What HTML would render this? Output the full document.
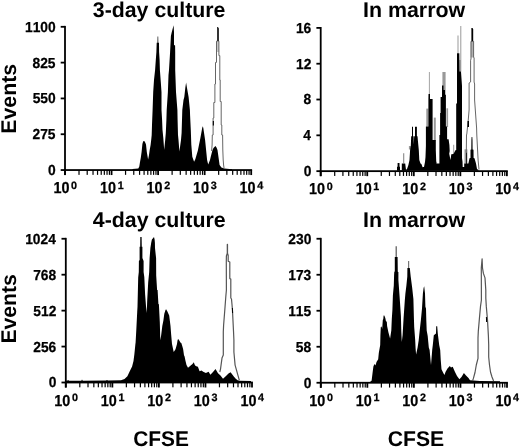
<!DOCTYPE html>
<html><head><meta charset="utf-8"><title>CFSE histograms</title><style>
html,body{margin:0;padding:0;background:#fff;}
svg{display:block;filter:grayscale(1);}
text{font-family:"Liberation Sans", sans-serif;font-weight:bold;fill:#000;font-kerning:none;text-rendering:geometricPrecision;}
.sm text{stroke:#000;stroke-width:0.25px;}
</style></head><body>
<svg width="520" height="448" viewBox="0 0 520 448">
<rect width="520" height="448" fill="#fff"/>
<path d="M216.4,41.2 L218.8,41.2 L219.2,52 L216.2,52 Z" fill="#c8c8c8"/>
<path d="M132.5,170.5 L132.5,169 L138.3,168.6 L139.3,166.5 L140,162 L140.8,157.7 L141.6,152 L142.4,144 L143.2,141.3 L144.3,141 L145.2,142.5 L146,144.5 L146.8,152 L147.5,156 L148.1,159.6 L149,155 L149.7,150 L150.6,145 L151.3,139 L151.7,135 L152,125 L152.6,110 L153.2,92.3 L154,80 L155.1,70 L155.8,60 L156.4,52 L156.7,42.8 L157.5,42.8 L157.6,36.4 L158.2,36.4 L158.3,42.8 L159,42.8 L159.1,52 L159.6,60 L159.9,70 L160.8,82 L161.5,92.3 L161.5,110 L162.1,120 L162.5,130 L163.3,138 L164.2,149.7 L165.2,140 L165.8,133 L166.4,120 L166.7,110 L167.9,92 L168.5,75 L169,70 L170.1,52 L170.9,36 L171.8,32 L173.6,25.3 L174,32 L174,45 L175.1,45.4 L175.2,52 L175.2,70 L176,92 L177.4,110 L177.6,120 L178,135 L178.5,140 L179.4,151.5 L180.3,145 L181,140 L181.6,133 L182,120 L182.3,110 L183.5,100 L184.3,97.1 L185.3,88 L186.1,82.4 L187,88 L188.6,97.1 L189.9,110 L190.1,115.5 L190.8,130 L191.3,144.6 L192.3,156.8 L194.1,161.7 L195.3,159.3 L197.8,150.7 L200.3,138.4 L202.2,128 L202.8,126.3 L203.3,128 L205.1,140 L206.1,150 L207.1,160 L208.2,164.6 L210,160 L210.7,157 L212.5,150 L213.5,148 L215.4,146.1 L216.5,147.5 L217.5,150 L218.2,155 L218.9,160 L219.6,165 L221.4,167.5 L224.3,168.5 L232,169.2 L232,170.5 Z" fill="#000"/>
<path d="M211.6,151 L212.1,145 L212.3,135 L213.1,135 L213.1,118 L213.8,118 L213.8,102.5 L214.9,102.5 L214.9,84 L215.5,84 L215.5,62.4 L216.5,62.4 L216.5,41.2 L217.3,41.2" fill="none" stroke="#666" stroke-width="1.0" stroke-linejoin="round"/>
<path d="M218.5,41.2 L218.9,41.2 L218.9,55.6 L219.8,55.6 L219.8,80 L220.2,80 L220.2,101.5 L221.2,101.5 L221.2,125 L221.8,125 L221.8,135 L222.6,135 L222.8,150 L223.2,160 L223.6,165 L224.1,168.5" fill="none" stroke="#666" stroke-width="1.0" stroke-linejoin="round"/>
<path d="M212.8,121 L213.9,121 L213.9,125.5 L212.8,125.5 Z" fill="#000"/>
<path d="M217.2,27 L218,27 L218.8,28.5 L218.8,41.3 L217.2,41.3 Z" fill="#000"/>
<rect x="64.1" y="25.9" width="1.8" height="149.15" fill="#000"/>
<rect x="64.1" y="169.15" width="188" height="1.8" fill="#000"/>
<rect x="60.7" y="169.15" width="4.3" height="1.8" fill="#000"/>
<rect x="60.7" y="133.34" width="4.3" height="1.8" fill="#000"/>
<rect x="60.7" y="97.53" width="4.3" height="1.8" fill="#000"/>
<rect x="60.7" y="61.71" width="4.3" height="1.8" fill="#000"/>
<rect x="60.7" y="25.9" width="4.3" height="1.8" fill="#000"/>
<rect x="64.1" y="170.05" width="1.8" height="5.0" fill="#000"/>
<rect x="78.41" y="170.05" width="1.2" height="4.8" fill="#000"/>
<rect x="86.61" y="170.05" width="1.2" height="4.8" fill="#000"/>
<rect x="92.43" y="170.05" width="1.2" height="4.8" fill="#000"/>
<rect x="96.94" y="170.05" width="1.2" height="4.8" fill="#000"/>
<rect x="100.62" y="170.05" width="1.2" height="4.8" fill="#000"/>
<rect x="103.74" y="170.05" width="1.2" height="4.8" fill="#000"/>
<rect x="106.44" y="170.05" width="1.2" height="4.8" fill="#000"/>
<rect x="108.82" y="170.05" width="1.2" height="4.8" fill="#000"/>
<rect x="110.65" y="170.05" width="1.8" height="5.0" fill="#000"/>
<rect x="124.96" y="170.05" width="1.2" height="4.8" fill="#000"/>
<rect x="133.16" y="170.05" width="1.2" height="4.8" fill="#000"/>
<rect x="138.98" y="170.05" width="1.2" height="4.8" fill="#000"/>
<rect x="143.49" y="170.05" width="1.2" height="4.8" fill="#000"/>
<rect x="147.17" y="170.05" width="1.2" height="4.8" fill="#000"/>
<rect x="150.29" y="170.05" width="1.2" height="4.8" fill="#000"/>
<rect x="152.99" y="170.05" width="1.2" height="4.8" fill="#000"/>
<rect x="155.37" y="170.05" width="1.2" height="4.8" fill="#000"/>
<rect x="157.2" y="170.05" width="1.8" height="5.0" fill="#000"/>
<rect x="171.51" y="170.05" width="1.2" height="4.8" fill="#000"/>
<rect x="179.71" y="170.05" width="1.2" height="4.8" fill="#000"/>
<rect x="185.53" y="170.05" width="1.2" height="4.8" fill="#000"/>
<rect x="190.04" y="170.05" width="1.2" height="4.8" fill="#000"/>
<rect x="193.72" y="170.05" width="1.2" height="4.8" fill="#000"/>
<rect x="196.84" y="170.05" width="1.2" height="4.8" fill="#000"/>
<rect x="199.54" y="170.05" width="1.2" height="4.8" fill="#000"/>
<rect x="201.92" y="170.05" width="1.2" height="4.8" fill="#000"/>
<rect x="203.75" y="170.05" width="1.8" height="5.0" fill="#000"/>
<rect x="218.06" y="170.05" width="1.2" height="4.8" fill="#000"/>
<rect x="226.26" y="170.05" width="1.2" height="4.8" fill="#000"/>
<rect x="232.08" y="170.05" width="1.2" height="4.8" fill="#000"/>
<rect x="236.59" y="170.05" width="1.2" height="4.8" fill="#000"/>
<rect x="240.27" y="170.05" width="1.2" height="4.8" fill="#000"/>
<rect x="243.39" y="170.05" width="1.2" height="4.8" fill="#000"/>
<rect x="246.09" y="170.05" width="1.2" height="4.8" fill="#000"/>
<rect x="248.47" y="170.05" width="1.2" height="4.8" fill="#000"/>
<rect x="250.3" y="170.05" width="1.8" height="5.0" fill="#000"/>
<path d="M403,153.2 L404.3,153.2 L404.3,163.2 L403,163.2 Z" fill="#999"/>
<path d="M408.9,146 L411.8,146 L411.8,149.5 L408.9,149.5 Z" fill="#999"/>
<path d="M428.9,72 L429.8,72 L429.8,94.2 L428.9,94.2 Z" fill="#999"/>
<path d="M426.3,108.6 L428.4,108.6 L428.4,126.6 L426.3,126.6 Z" fill="#999"/>
<path d="M433.8,117.6 L435.8,117.6 L435.8,140.5 L433.8,140.5 Z" fill="#999"/>
<path d="M442.4,72 L445.6,72 L445.6,95 L442.4,95 Z" fill="#999"/>
<path d="M446.4,108.3 L448.1,108.3 L448.1,127 L446.4,127 Z" fill="#999"/>
<path d="M436.2,161.8 L437,161.8 L437,163.8 L436.2,163.8 Z" fill="#999"/>
<path d="M453.2,144.8 L454.2,144.8 L454.2,154 L453.2,154 Z" fill="#999"/>
<path d="M457.5,35.6 L458.5,35.6 L458.5,53.3 L457.5,53.3 Z" fill="#999"/>
<path d="M460.3,26 L461.3,26 L461.3,71.7 L459.5,71.7 L459.5,60 L460.3,60 Z" fill="#999"/>
<path d="M464.5,149.3 L467.4,149.3 L467.4,163.6 L464.5,163.6 Z" fill="#999"/>
<path d="M470.7,41.4 L474,41.4 L474,57.5 L470.7,57.5 Z" fill="#b0b0b0"/>
<path d="M397,170.8 L397,166.8 L397.6,166.8 L397.6,163 L399.5,163 L399.5,166.8 L400,166.8 L400,170.2 L401.8,170.2 L401.8,163.4 L405.2,163.4 L405.5,166 L406,169.8 L407,169 L408.4,165 L409.5,160 L410.1,150 L410.8,146 L411.2,136.2 L412,136.2 L412,126.8 L413,126.8 L413,136.2 L413.6,136.2 L413.8,144.5 L414.2,136.2 L415,136.2 L415,126.8 L416.9,126.8 L416.9,136.2 L417.5,136.2 L418.4,146 L418.8,150 L419.3,160 L420.5,163.5 L421.4,164 L422.6,167.2 L423.5,167 L424,167 L425,162 L425.5,157 L425.9,146 L425.9,126.6 L428.4,126.6 L428.4,99 L428.5,94 L430,94 L430,99 L432.6,99 L432.6,140 L435.8,140 L435.8,150 L436.3,163.6 L439.4,163.6 L439.4,135 L440.1,135 L440.1,113 L440.6,113 L440.6,97 L442,97 L442,85.6 L443.5,85.6 L443.5,90 L445,90 L445,94.7 L445.9,94.7 L445.9,126.6 L447.1,126.6 L447.1,139.2 L448.6,139.2 L449.4,145 L449.7,151 L449.2,153.8 L450.5,160 L451.3,154.2 L453.5,154 L455.4,150.2 L456.2,150 L456.2,103.5 L457,103.5 L457,53.2 L459.3,53.2 L459.5,71.6 L461,71.6 L462,86 L462,158 L462.5,161.8 L462.7,167.1 L464.2,167.1 L464.2,163.6 L466.2,163.6 L466.2,152.4 L467,152.4 L467,163.6 L468.4,163.6 L469.5,158.2 L470.5,158 L470.5,149.7 L471.3,149.5 L471.4,140 L471.6,137 L472.3,137 L472.5,140 L472.6,149.5 L473.5,149.7 L473.6,158 L474.5,158.2 L476,163.6 L477,169 L478.5,170 L478.5,170.8 Z" fill="#000"/>
<path d="M466.3,152 L466.5,135 L466.8,134 L468.1,121.6 L469.1,110 L469.1,83 L470.6,82 L470.6,60.2 L471,59 L471,41.4 L471.6,41.4" fill="none" stroke="#666" stroke-width="1.0" stroke-linejoin="round"/>
<path d="M473,41.4 L473.6,41.4 L473.6,57 L474.1,58 L474.1,82 L474.6,84 L474.6,100 L476.6,128 L476.8,135 L478.1,160 L479,169.5" fill="none" stroke="#666" stroke-width="1.0" stroke-linejoin="round"/>
<path d="M467.5,121 L469,121 L469,127 L467.5,127 Z" fill="#000"/>
<path d="M471.4,28 L472.6,28 L473.2,29.5 L473.2,41.6 L471.4,41.6 Z" fill="#000"/>
<rect x="319.8" y="27" width="1.8" height="149.15" fill="#000"/>
<rect x="319.8" y="170.25" width="188" height="1.8" fill="#000"/>
<rect x="316.4" y="170.25" width="4.3" height="1.8" fill="#000"/>
<rect x="316.4" y="134.44" width="4.3" height="1.8" fill="#000"/>
<rect x="316.4" y="98.62" width="4.3" height="1.8" fill="#000"/>
<rect x="316.4" y="62.81" width="4.3" height="1.8" fill="#000"/>
<rect x="316.4" y="27" width="4.3" height="1.8" fill="#000"/>
<rect x="319.8" y="171.15" width="1.8" height="5.0" fill="#000"/>
<rect x="334.11" y="171.15" width="1.2" height="4.8" fill="#000"/>
<rect x="342.31" y="171.15" width="1.2" height="4.8" fill="#000"/>
<rect x="348.13" y="171.15" width="1.2" height="4.8" fill="#000"/>
<rect x="352.64" y="171.15" width="1.2" height="4.8" fill="#000"/>
<rect x="356.32" y="171.15" width="1.2" height="4.8" fill="#000"/>
<rect x="359.44" y="171.15" width="1.2" height="4.8" fill="#000"/>
<rect x="362.14" y="171.15" width="1.2" height="4.8" fill="#000"/>
<rect x="364.52" y="171.15" width="1.2" height="4.8" fill="#000"/>
<rect x="366.35" y="171.15" width="1.8" height="5.0" fill="#000"/>
<rect x="380.66" y="171.15" width="1.2" height="4.8" fill="#000"/>
<rect x="388.86" y="171.15" width="1.2" height="4.8" fill="#000"/>
<rect x="394.68" y="171.15" width="1.2" height="4.8" fill="#000"/>
<rect x="399.19" y="171.15" width="1.2" height="4.8" fill="#000"/>
<rect x="402.87" y="171.15" width="1.2" height="4.8" fill="#000"/>
<rect x="405.99" y="171.15" width="1.2" height="4.8" fill="#000"/>
<rect x="408.69" y="171.15" width="1.2" height="4.8" fill="#000"/>
<rect x="411.07" y="171.15" width="1.2" height="4.8" fill="#000"/>
<rect x="412.9" y="171.15" width="1.8" height="5.0" fill="#000"/>
<rect x="427.21" y="171.15" width="1.2" height="4.8" fill="#000"/>
<rect x="435.41" y="171.15" width="1.2" height="4.8" fill="#000"/>
<rect x="441.23" y="171.15" width="1.2" height="4.8" fill="#000"/>
<rect x="445.74" y="171.15" width="1.2" height="4.8" fill="#000"/>
<rect x="449.42" y="171.15" width="1.2" height="4.8" fill="#000"/>
<rect x="452.54" y="171.15" width="1.2" height="4.8" fill="#000"/>
<rect x="455.24" y="171.15" width="1.2" height="4.8" fill="#000"/>
<rect x="457.62" y="171.15" width="1.2" height="4.8" fill="#000"/>
<rect x="459.45" y="171.15" width="1.8" height="5.0" fill="#000"/>
<rect x="473.76" y="171.15" width="1.2" height="4.8" fill="#000"/>
<rect x="481.96" y="171.15" width="1.2" height="4.8" fill="#000"/>
<rect x="487.78" y="171.15" width="1.2" height="4.8" fill="#000"/>
<rect x="492.29" y="171.15" width="1.2" height="4.8" fill="#000"/>
<rect x="495.97" y="171.15" width="1.2" height="4.8" fill="#000"/>
<rect x="499.09" y="171.15" width="1.2" height="4.8" fill="#000"/>
<rect x="501.79" y="171.15" width="1.2" height="4.8" fill="#000"/>
<rect x="504.17" y="171.15" width="1.2" height="4.8" fill="#000"/>
<rect x="506" y="171.15" width="1.8" height="5.0" fill="#000"/>
<path d="M66,383 L66,380.8 L67.5,380.6 L68.2,380 L69,380.7 L81.3,380.8 L82,379.5 L82.8,380.7 L106,380.6 L107,379.9 L108,380.6 L121,380.3 L124.5,378.9 L127.4,376.3 L129.5,371.8 L132.1,366.4 L133.5,361 L134.4,353.9 L135.3,345 L135.6,342.4 L136.3,329.9 L137.2,312 L137.5,306.8 L138.2,277.4 L138.8,272 L138.9,261 L139.6,260 L139.6,246.7 L140.2,246.7 L140.3,237 L141.6,237 L141.8,246.7 L142.4,246.7 L142.4,258 L143.6,261 L143.6,272 L144.3,277 L145.1,294.3 L146,306 L146.6,313 L147,306 L147.2,300.6 L148.2,282.3 L149.2,272 L149.6,258.3 L150.4,248 L151.2,242.7 L151.9,239.6 L153.6,237.5 L154,236.9 L154.6,239.6 L154.9,242.7 L155,248 L156.1,258.3 L156.2,275.6 L157.1,289.9 L157.6,290 L158.4,304.1 L158.9,304.3 L159.8,322.1 L160.3,340.3 L161.2,335 L162.3,326 L163.4,320.4 L164.3,313.7 L165.5,310 L166.1,309.2 L167.4,311.4 L169.2,315.4 L170.5,326 L171.2,335 L172,343.9 L173.7,351.9 L175.5,349.2 L177,343.9 L177.6,340 L178.1,338.9 L179,340 L180.4,342.5 L181.3,343 L182.1,345.6 L183.1,348.9 L183.4,351 L184,355.2 L184.6,356.4 L185.4,360.5 L186.5,365 L188,367.7 L189.5,366.5 L190.7,365.4 L192.5,364 L193.8,362.3 L194.6,364.5 L195.6,365.9 L197.9,366.8 L199.6,371.3 L201.5,370.5 L203.2,371.7 L205.9,373 L208.6,371.7 L210.4,374.8 L213,372.1 L215.5,369.1 L218,373.2 L220.5,375.5 L223,378.7 L226,376 L228.5,373.5 L230.6,372.2 L233.6,376.2 L235.5,378.5 L237.6,380.2 L240,380.7 L251,380.9 L251,383 Z" fill="#000"/>
<path d="M219.8,372 L220.5,369.1 L222,358.1 L223.3,355 L223.3,332 L223.6,325.2 L224.8,310 L225.8,296.7 L226.4,290 L226.3,262 L226.4,256 L227.3,253.2 L227.3,244.4 L227.5,244.4 L227.5,253.2 L228.2,255.5 L228.2,261.2 L229.8,262 L229.8,278.6 L230.8,279 L230.8,298 L231.5,299 L232.4,309 L233.5,331 L233.9,340 L233.9,352 L235.1,365.1 L237.6,374.2 L239.3,380.2" fill="none" stroke="#555" stroke-width="1.2" stroke-linejoin="round"/>
<path d="M231.9,308 L232.9,308 L233.1,313 L232.1,313 Z" fill="#000"/>
<rect x="64.9" y="237.85" width="1.8" height="149.65" fill="#000"/>
<rect x="64.9" y="381.6" width="188" height="1.8" fill="#000"/>
<rect x="61.5" y="381.6" width="4.3" height="1.8" fill="#000"/>
<rect x="61.5" y="345.66" width="4.3" height="1.8" fill="#000"/>
<rect x="61.5" y="309.73" width="4.3" height="1.8" fill="#000"/>
<rect x="61.5" y="273.79" width="4.3" height="1.8" fill="#000"/>
<rect x="61.5" y="237.85" width="4.3" height="1.8" fill="#000"/>
<rect x="64.9" y="382.5" width="1.8" height="5.0" fill="#000"/>
<rect x="79.21" y="382.5" width="1.2" height="4.8" fill="#000"/>
<rect x="87.41" y="382.5" width="1.2" height="4.8" fill="#000"/>
<rect x="93.23" y="382.5" width="1.2" height="4.8" fill="#000"/>
<rect x="97.74" y="382.5" width="1.2" height="4.8" fill="#000"/>
<rect x="101.42" y="382.5" width="1.2" height="4.8" fill="#000"/>
<rect x="104.54" y="382.5" width="1.2" height="4.8" fill="#000"/>
<rect x="107.24" y="382.5" width="1.2" height="4.8" fill="#000"/>
<rect x="109.62" y="382.5" width="1.2" height="4.8" fill="#000"/>
<rect x="111.45" y="382.5" width="1.8" height="5.0" fill="#000"/>
<rect x="125.76" y="382.5" width="1.2" height="4.8" fill="#000"/>
<rect x="133.96" y="382.5" width="1.2" height="4.8" fill="#000"/>
<rect x="139.78" y="382.5" width="1.2" height="4.8" fill="#000"/>
<rect x="144.29" y="382.5" width="1.2" height="4.8" fill="#000"/>
<rect x="147.97" y="382.5" width="1.2" height="4.8" fill="#000"/>
<rect x="151.09" y="382.5" width="1.2" height="4.8" fill="#000"/>
<rect x="153.79" y="382.5" width="1.2" height="4.8" fill="#000"/>
<rect x="156.17" y="382.5" width="1.2" height="4.8" fill="#000"/>
<rect x="158" y="382.5" width="1.8" height="5.0" fill="#000"/>
<rect x="172.31" y="382.5" width="1.2" height="4.8" fill="#000"/>
<rect x="180.51" y="382.5" width="1.2" height="4.8" fill="#000"/>
<rect x="186.33" y="382.5" width="1.2" height="4.8" fill="#000"/>
<rect x="190.84" y="382.5" width="1.2" height="4.8" fill="#000"/>
<rect x="194.52" y="382.5" width="1.2" height="4.8" fill="#000"/>
<rect x="197.64" y="382.5" width="1.2" height="4.8" fill="#000"/>
<rect x="200.34" y="382.5" width="1.2" height="4.8" fill="#000"/>
<rect x="202.72" y="382.5" width="1.2" height="4.8" fill="#000"/>
<rect x="204.55" y="382.5" width="1.8" height="5.0" fill="#000"/>
<rect x="218.86" y="382.5" width="1.2" height="4.8" fill="#000"/>
<rect x="227.06" y="382.5" width="1.2" height="4.8" fill="#000"/>
<rect x="232.88" y="382.5" width="1.2" height="4.8" fill="#000"/>
<rect x="237.39" y="382.5" width="1.2" height="4.8" fill="#000"/>
<rect x="241.07" y="382.5" width="1.2" height="4.8" fill="#000"/>
<rect x="244.19" y="382.5" width="1.2" height="4.8" fill="#000"/>
<rect x="246.89" y="382.5" width="1.2" height="4.8" fill="#000"/>
<rect x="249.27" y="382.5" width="1.2" height="4.8" fill="#000"/>
<rect x="251.1" y="382.5" width="1.8" height="5.0" fill="#000"/>
<path d="M395.5,246.3 L397,246.3 L397,257.5 L395.5,257.5 Z" fill="#777"/>
<path d="M408,261 L409.2,261 L409.2,268.5 L408,268.5 Z" fill="#777"/>
<path d="M370.5,383 L370.5,381.2 L371.6,380.7 L372.7,371.8 L373.4,366.4 L374.2,364.5 L375,364.2 L375.6,365.5 L376.5,362 L378.2,359.3 L378.8,353 L380.2,345 L380.4,335.4 L380.8,327 L381.6,326.5 L382.2,329 L382.8,320 L383.3,318.9 L383.6,315.4 L384.3,315.4 L385.3,318 L386,321.6 L386.8,321.6 L387.1,326 L388.4,332.3 L390.1,338.6 L391.3,330.5 L391.8,318.9 L392.4,310 L392.9,295.2 L393.8,285.4 L394.1,275 L394.3,271.7 L394.8,271.5 L394.8,257 L397.6,257 L397.8,271.7 L398.4,272 L398.4,280 L399.5,295.2 L400.9,315.7 L401.3,331.4 L401.8,342.1 L402.6,335 L403.6,318 L404.8,300.5 L405.4,293.4 L406.4,285.4 L407.3,276.6 L407.4,268.1 L409.8,268.1 L410.7,276.6 L412.2,288 L413.4,299 L413.9,318 L414.2,326.9 L415.2,340.3 L415.6,348.4 L416.1,354.6 L417.6,347.5 L418.7,340.3 L419.6,331.4 L420.9,320 L422,308.6 L422.9,293.4 L423.6,288 L424.2,286.3 L425,293.4 L425.4,306.8 L426,308.6 L426.3,320 L426.7,330.5 L427.7,335.9 L428.8,347.5 L429.6,350 L431,365 L432.2,350 L432.8,345 L433.8,335.2 L436,333.4 L436.2,326.3 L437.2,326.3 L437.8,333.4 L438,335.2 L439.2,345 L440.2,350 L440.7,359.6 L441.5,369.2 L443.3,373 L444.5,375 L445.5,372 L447.5,368.5 L449.8,365.9 L451,367.5 L452.7,366.8 L455,372 L457,376 L459.4,379.3 L461.5,377 L463.9,373.1 L466,375.5 L468.5,378 L470,380.3 L480,381 L500,381.3 L500,383 Z" fill="#000"/>
<path d="M472.5,381 L473.4,378.4 L475,372.5 L476.3,365 L478,358.4 L478,338.1 L478.3,331.4 L479.4,318.6 L480.5,306.4 L481.4,300 L481.3,268 L482.1,258.9 L482.5,268 L483.4,273.4 L485,277.9 L485.8,290.1 L485.8,298 L486.3,306.4 L487.5,320 L488.4,335.9 L488.7,345 L488.7,357 L489.5,365 L490.5,372 L492,377 L493.6,381" fill="none" stroke="#555" stroke-width="1.2" stroke-linejoin="round"/>
<path d="M485.9,317 L486.9,317 L487.1,322 L486.1,322 Z" fill="#000"/>
<rect x="319.9" y="237.85" width="1.8" height="149.9" fill="#000"/>
<rect x="319.9" y="381.85" width="188" height="1.8" fill="#000"/>
<rect x="316.5" y="381.85" width="4.3" height="1.8" fill="#000"/>
<rect x="316.5" y="345.85" width="4.3" height="1.8" fill="#000"/>
<rect x="316.5" y="309.85" width="4.3" height="1.8" fill="#000"/>
<rect x="316.5" y="273.85" width="4.3" height="1.8" fill="#000"/>
<rect x="316.5" y="237.85" width="4.3" height="1.8" fill="#000"/>
<rect x="319.9" y="382.75" width="1.8" height="5.0" fill="#000"/>
<rect x="334.21" y="382.75" width="1.2" height="4.8" fill="#000"/>
<rect x="342.41" y="382.75" width="1.2" height="4.8" fill="#000"/>
<rect x="348.23" y="382.75" width="1.2" height="4.8" fill="#000"/>
<rect x="352.74" y="382.75" width="1.2" height="4.8" fill="#000"/>
<rect x="356.42" y="382.75" width="1.2" height="4.8" fill="#000"/>
<rect x="359.54" y="382.75" width="1.2" height="4.8" fill="#000"/>
<rect x="362.24" y="382.75" width="1.2" height="4.8" fill="#000"/>
<rect x="364.62" y="382.75" width="1.2" height="4.8" fill="#000"/>
<rect x="366.45" y="382.75" width="1.8" height="5.0" fill="#000"/>
<rect x="380.76" y="382.75" width="1.2" height="4.8" fill="#000"/>
<rect x="388.96" y="382.75" width="1.2" height="4.8" fill="#000"/>
<rect x="394.78" y="382.75" width="1.2" height="4.8" fill="#000"/>
<rect x="399.29" y="382.75" width="1.2" height="4.8" fill="#000"/>
<rect x="402.97" y="382.75" width="1.2" height="4.8" fill="#000"/>
<rect x="406.09" y="382.75" width="1.2" height="4.8" fill="#000"/>
<rect x="408.79" y="382.75" width="1.2" height="4.8" fill="#000"/>
<rect x="411.17" y="382.75" width="1.2" height="4.8" fill="#000"/>
<rect x="413" y="382.75" width="1.8" height="5.0" fill="#000"/>
<rect x="427.31" y="382.75" width="1.2" height="4.8" fill="#000"/>
<rect x="435.51" y="382.75" width="1.2" height="4.8" fill="#000"/>
<rect x="441.33" y="382.75" width="1.2" height="4.8" fill="#000"/>
<rect x="445.84" y="382.75" width="1.2" height="4.8" fill="#000"/>
<rect x="449.52" y="382.75" width="1.2" height="4.8" fill="#000"/>
<rect x="452.64" y="382.75" width="1.2" height="4.8" fill="#000"/>
<rect x="455.34" y="382.75" width="1.2" height="4.8" fill="#000"/>
<rect x="457.72" y="382.75" width="1.2" height="4.8" fill="#000"/>
<rect x="459.55" y="382.75" width="1.8" height="5.0" fill="#000"/>
<rect x="473.86" y="382.75" width="1.2" height="4.8" fill="#000"/>
<rect x="482.06" y="382.75" width="1.2" height="4.8" fill="#000"/>
<rect x="487.88" y="382.75" width="1.2" height="4.8" fill="#000"/>
<rect x="492.39" y="382.75" width="1.2" height="4.8" fill="#000"/>
<rect x="496.07" y="382.75" width="1.2" height="4.8" fill="#000"/>
<rect x="499.19" y="382.75" width="1.2" height="4.8" fill="#000"/>
<rect x="501.89" y="382.75" width="1.2" height="4.8" fill="#000"/>
<rect x="504.27" y="382.75" width="1.2" height="4.8" fill="#000"/>
<rect x="506.1" y="382.75" width="1.8" height="5.0" fill="#000"/>
<g class="sm">
<text transform="translate(47.99,175) scale(0.9500,1)" font-size="14.527">0</text>
<text transform="translate(32.46,139.18) scale(0.9500,1)" font-size="14.527">275</text>
<text transform="translate(32.64,103.37) scale(0.9500,1)" font-size="14.527">550</text>
<text transform="translate(32.46,67.56) scale(0.9500,1)" font-size="14.527">825</text>
<text transform="translate(24.97,31.75) scale(0.9500,1)" font-size="14.527">1100</text>
<text transform="translate(53.42,193.2) scale(0.9089,1)" font-size="15.843">10</text>
<text transform="translate(71.1,188.65) scale(1.0000,1)" font-size="10.756">0</text>
<text transform="translate(99.97,193.2) scale(0.9089,1)" font-size="15.843">10</text>
<text transform="translate(117.65,188.65) scale(1.0000,1)" font-size="10.756">1</text>
<text transform="translate(146.52,193.2) scale(0.9089,1)" font-size="15.843">10</text>
<text transform="translate(164.2,188.65) scale(1.0000,1)" font-size="10.756">2</text>
<text transform="translate(193.07,193.2) scale(0.9089,1)" font-size="15.843">10</text>
<text transform="translate(210.75,188.65) scale(1.0000,1)" font-size="10.756">3</text>
<text transform="translate(239.62,193.2) scale(0.9089,1)" font-size="15.843">10</text>
<text transform="translate(257.3,188.65) scale(1.0000,1)" font-size="10.756">4</text>
<text transform="translate(303.69,176.1) scale(0.9500,1)" font-size="14.527">0</text>
<text transform="translate(303.2,140.28) scale(0.9500,1)" font-size="14.527">4</text>
<text transform="translate(303.55,104.47) scale(0.9500,1)" font-size="14.527">8</text>
<text transform="translate(296,68.66) scale(0.9500,1)" font-size="14.527">12</text>
<text transform="translate(295.95,32.85) scale(0.9500,1)" font-size="14.527">16</text>
<text transform="translate(309.12,194.3) scale(0.9089,1)" font-size="15.843">10</text>
<text transform="translate(326.8,189.75) scale(1.0000,1)" font-size="10.756">0</text>
<text transform="translate(355.67,194.3) scale(0.9089,1)" font-size="15.843">10</text>
<text transform="translate(373.35,189.75) scale(1.0000,1)" font-size="10.756">1</text>
<text transform="translate(402.22,194.3) scale(0.9089,1)" font-size="15.843">10</text>
<text transform="translate(419.9,189.75) scale(1.0000,1)" font-size="10.756">2</text>
<text transform="translate(448.77,194.3) scale(0.9089,1)" font-size="15.843">10</text>
<text transform="translate(466.45,189.75) scale(1.0000,1)" font-size="10.756">3</text>
<text transform="translate(495.32,194.3) scale(0.9089,1)" font-size="15.843">10</text>
<text transform="translate(513,189.75) scale(1.0000,1)" font-size="10.756">4</text>
<text transform="translate(48.69,387.45) scale(0.9500,1)" font-size="14.527">0</text>
<text transform="translate(33.27,351.51) scale(0.9500,1)" font-size="14.527">256</text>
<text transform="translate(33.33,315.57) scale(0.9500,1)" font-size="14.527">512</text>
<text transform="translate(33.2,279.63) scale(0.9500,1)" font-size="14.527">768</text>
<text transform="translate(25.17,243.7) scale(0.9500,1)" font-size="14.527">1024</text>
<text transform="translate(54.22,405.65) scale(0.9089,1)" font-size="15.843">10</text>
<text transform="translate(71.9,401.1) scale(1.0000,1)" font-size="10.756">0</text>
<text transform="translate(100.77,405.65) scale(0.9089,1)" font-size="15.843">10</text>
<text transform="translate(118.45,401.1) scale(1.0000,1)" font-size="10.756">1</text>
<text transform="translate(147.32,405.65) scale(0.9089,1)" font-size="15.843">10</text>
<text transform="translate(165,401.1) scale(1.0000,1)" font-size="10.756">2</text>
<text transform="translate(193.87,405.65) scale(0.9089,1)" font-size="15.843">10</text>
<text transform="translate(211.55,401.1) scale(1.0000,1)" font-size="10.756">3</text>
<text transform="translate(240.42,405.65) scale(0.9089,1)" font-size="15.843">10</text>
<text transform="translate(258.1,401.1) scale(1.0000,1)" font-size="10.756">4</text>
<text transform="translate(303.69,387.7) scale(0.9500,1)" font-size="14.527">0</text>
<text transform="translate(295.87,351.7) scale(0.9500,1)" font-size="14.527">58</text>
<text transform="translate(288.16,315.7) scale(0.9500,1)" font-size="14.527">115</text>
<text transform="translate(288.27,279.7) scale(0.9500,1)" font-size="14.527">173</text>
<text transform="translate(288.34,243.7) scale(0.9500,1)" font-size="14.527">230</text>
<text transform="translate(309.22,405.9) scale(0.9089,1)" font-size="15.843">10</text>
<text transform="translate(326.9,401.35) scale(1.0000,1)" font-size="10.756">0</text>
<text transform="translate(355.77,405.9) scale(0.9089,1)" font-size="15.843">10</text>
<text transform="translate(373.45,401.35) scale(1.0000,1)" font-size="10.756">1</text>
<text transform="translate(402.32,405.9) scale(0.9089,1)" font-size="15.843">10</text>
<text transform="translate(420,401.35) scale(1.0000,1)" font-size="10.756">2</text>
<text transform="translate(448.87,405.9) scale(0.9089,1)" font-size="15.843">10</text>
<text transform="translate(466.55,401.35) scale(1.0000,1)" font-size="10.756">3</text>
<text transform="translate(495.42,405.9) scale(0.9089,1)" font-size="15.843">10</text>
<text transform="translate(513.1,401.35) scale(1.0000,1)" font-size="10.756">4</text>
</g>
<g class="big">
<text transform="translate(92.81,16.8) scale(1.0003,1)" font-size="21.300">3-day culture</text>
<text transform="translate(362.97,16.7) scale(1.0049,1)" font-size="21.300">In marrow</text>
<text transform="translate(92.78,227.4) scale(1.0021,1)" font-size="21.300">4-day culture</text>
<text transform="translate(362.97,227.3) scale(1.0049,1)" font-size="21.300">In marrow</text>
<text transform="translate(133.24,446.2) scale(0.9818,1)" font-size="21.300">CFSE</text>
<text transform="translate(387.73,446.2) scale(0.9945,1)" font-size="21.300">CFSE</text>
<text transform="translate(15.8,133.72) rotate(-90) scale(0.9993,1)" font-size="21.300">Events</text>
<text transform="translate(15.8,343.52) rotate(-90) scale(0.9933,1)" font-size="21.300">Events</text>
</g>
</svg>
</body></html>
